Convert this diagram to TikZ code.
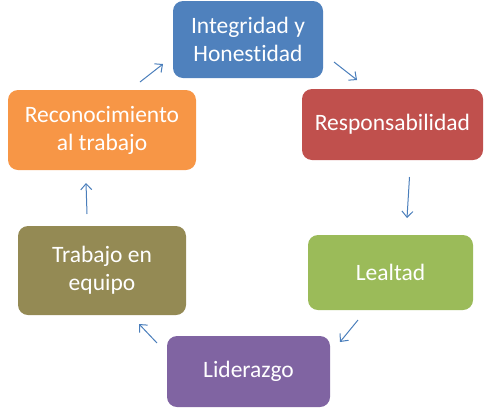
\documentclass[tikz,border=0pt]{standalone}
\usepackage{fontspec}
\setmainfont{Carlito}[Ligatures={NoCommon,NoDiscretionary,NoRare,NoHistoric}]
\usetikzlibrary{arrows.meta}
\definecolor{azul}{HTML}{4F81BD}
\definecolor{rojo}{HTML}{C0504D}
\definecolor{verde}{HTML}{9BBB59}
\definecolor{morado}{HTML}{8064A2}
\definecolor{naranja}{HTML}{F79646}
\definecolor{oliva}{HTML}{948A54}
\definecolor{flecha}{HTML}{4A7EBB}
\tikzset{-box-/.style={fill=#1,rounded corners=10pt,inner sep=0pt,align=center,
    text=white,font=\fontsize{23.5}{28}\selectfont}}
\tikzset{-arr-/.style={draw=flecha,line width=1pt,-{Straight Barb[length=6pt,width=11pt]}}}

\begin{document}
\begin{tikzpicture}[x=1pt,y=-1pt]
                \useasboundingbox (0,0) rectangle (492,413);
                
                % Boxes
                \node[-box-=azul,minimum width=150pt,minimum height=77pt] (int) at (248,39.5) {Integridad y\\Honestidad};
                \node[-box-=rojo,minimum width=181pt,minimum height=71pt] (resp) at (392.5,124.5) {Responsabilidad};
                \node[-box-=verde,minimum width=165pt,minimum height=75pt] (leal) at (390.5,272.5) {Lealtad};
                \node[-box-=morado,minimum width=163pt,minimum height=71pt] (lid) at (248.5,371.5) {Liderazgo};
                \node[-box-=oliva,minimum width=168pt,minimum height=89pt] (equi) at (102,270.5) {Trabajo en\\equipo};
                \node[-box-=naranja,minimum width=188pt,minimum height=80pt] (reco) at (102,130) {Reconocimiento\\al trabajo};
                
                % Arrow ends
                \coordinate (a1) at (140,82);  \coordinate (b1) at (163,64);
                \coordinate (a2) at (334,62);  \coordinate (b2) at (357,80);
                \coordinate (a3) at (409.5,177); \coordinate (b3) at (407,218);
                \coordinate (a4) at (358,320); \coordinate (b4) at (340,342);
                \coordinate (a5) at (157,343); \coordinate (b5) at (139,324);
                \coordinate (a6) at (87,214);  \coordinate (b6) at (86,183);
                
                % Arrows
                \draw[-arr-] (a1) -- (b1);
                \draw[-arr-] (a2) -- (b2);
                \draw[-arr-] (a3) -- (b3);
                \draw[-arr-] (a4) -- (b4);
                \draw[-arr-] (a5) -- (b5);
                \draw[-arr-] (a6) -- (b6);
\end{tikzpicture}
\end{document}
